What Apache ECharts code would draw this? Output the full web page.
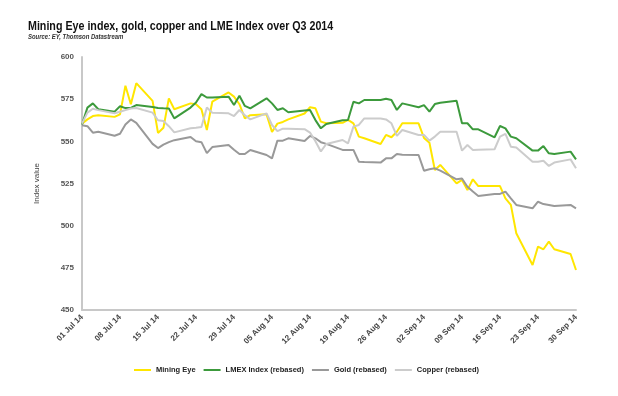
<!DOCTYPE html>
<html>
<head>
    <meta charset="utf-8" />
    <title>Mining Eye index</title>
    <script src="https://cdn.jsdelivr.net/npm/echarts@6.0.0/dist/echarts.min.js"></script>
    <style>
        body { margin: 0; background: #fff; }
        #main { width: 618px; height: 396px; }
    </style>
</head>
<body>
<div id="main"></div>
<script type="text/javascript">
    // x 轴刻度（每周一个）
    const tickLabels = ['01 Jul 14', '08 Jul 14', '15 Jul 14', '22 Jul 14', '29 Jul 14', '05 Aug 14', '12 Aug 14',
        '19 Aug 14', '26 Aug 14', '02 Sep 14', '09 Sep 14', '16 Sep 14', '23 Sep 14', '30 Sep 14'];

    // 交易日：相对 01 Jul 14 的天数
    const tradingDays = [0, 1, 2, 3, 6, 7, 8, 9, 10, 13, 14, 15, 16, 17, 20, 21, 22, 23, 24,
        27, 28, 29, 30, 31, 34, 35, 36, 37, 38, 41, 42, 43, 44, 45, 48, 49, 50, 51, 52,
        55, 56, 57, 58, 59, 62, 63, 64, 65, 66, 69, 70, 71, 72, 73, 76, 77, 78, 79, 80,
        83, 84, 85, 86, 87, 90, 91];

    const miningEye = [560.5, 563, 565, 565.5, 564.5, 566, 583, 572, 584.5, 574, 555, 558, 575.5, 569,
        572.5, 572, 569, 556.7, 573.5, 579, 576.5, 572, 563.6, 565.5, 566, 555.5, 560.5, 561.5, 563,
        566.5, 570.2, 569.6, 561.7, 560.7, 561, 562.7, 560.7, 552.8, 551.8, 548.4, 553.8, 552.4, 555.7, 560.7,
        560.7, 552, 549.2, 533, 536, 525.1, 527.1, 521.1, 527.5, 523.5, 523.5, 523.5, 516.2, 512.3, 495.5,
        476.7, 487.6, 486, 490.5, 486, 483.2, 473.7];

    const lmex = [560, 570, 572.5, 569, 567.6, 570.8, 569.7, 569.8, 571.5, 570.4, 569.8, 569.6, 569.5, 563.6,
        570, 573, 578, 576, 576, 576.5, 571.5, 577, 571, 569.5, 575.5, 572.5, 568.6, 569.6, 567.2,
        568.3, 568.6, 562.6, 557.7, 560.3, 562.5, 562.7, 573.5, 572.5, 574.5, 574.5, 575.3, 574.5, 568.6, 572.5,
        570.2, 571.5, 567.6, 572.1, 572.9, 574.1, 560.7, 560.7, 557.1, 557.1, 552.4, 559.1, 557.7, 552.8, 551.8,
        544.5, 544.5, 547.2, 542.9, 542.5, 543.9, 539.3];

    const gold = [559.5, 559, 555.1, 555.7, 553.3, 554.5, 560, 563, 561, 548.5, 546, 548, 549.5, 550.7,
        552.6, 550, 549.5, 543, 546.6, 547.8, 545, 542.5, 542.5, 544.9, 541.9, 539.9, 550.4, 550.4, 551.8,
        550.2, 553.2, 551.8, 549.5, 548.5, 544.9, 544.9, 544.9, 537.9, 537.7, 537.4, 539.9, 539.9, 542.5, 542,
        541.9, 532.6, 533.4, 534, 532.6, 527.5, 528, 523.1, 520.2, 517.6, 518.8, 518.8, 520.2, 516.2, 512.3,
        510.3, 514.2, 512.8, 512.3, 511.6, 512.3, 510.3];

    const copper = [560.5, 567, 569.3, 568.5, 566.6, 567.5, 568.5, 569.5, 569.8, 567, 562.5, 562, 559, 555.3,
        557.8, 558, 558.5, 570, 567, 566.6, 565, 568.6, 565.5, 563, 566.6, 559.7, 556, 557.5, 557.5,
        557.2, 555.2, 550, 544, 548.4, 550.8, 548.8, 558.7, 559.7, 563.6, 563.6, 563, 560.7, 553.2, 556.7,
        553.8, 553.8, 550.4, 552.8, 555.7, 555.7, 544.5, 547.8, 544.9, 545, 545.3, 552.8, 554.4, 546.8, 546.4,
        537.9, 537.9, 538.5, 535.4, 537.4, 539.3, 534];

    // 日历天（含周末），标签每 7 天一个
    const totalDays = (tickLabels.length - 1) * 7 + 1;
    const categories = [];
    for (let i = 0; i < totalDays; i++) {
        categories.push(i % 7 === 0 ? tickLabels[i / 7] : '');
    }

    const toPairs = function (values) {
        return values.map((v, i) => [tradingDays[i], v]);
    };

    const makeSeries = function (name, values, color) {
        return {
            name: name,
            type: 'line',
            data: toPairs(values),
            symbol: 'none',
            lineStyle: {width: 2, color: color},
            itemStyle: {color: color}
        };
    };

    let myChart = echarts.init(document.getElementById('main'));
    let option = {
        animation: false,
        // 标题用 graphic，方便横向压缩
        graphic: [
            {
                type: 'text',
                x: 28,
                y: 20,
                scaleX: 0.855,
                style: {
                    text: 'Mining Eye index, gold, copper and LME Index over Q3 2014',
                    fontFamily: 'Liberation Sans',
                    fontSize: 12.5,
                    fontWeight: 'bold',
                    fill: '#111',
                    verticalAlign: 'top'
                }
            },
            {
                type: 'text',
                x: 28,
                y: 34,
                scaleX: 0.85,
                style: {
                    text: 'Source: EY, Thomson Datastream',
                    fontFamily: 'Liberation Sans',
                    fontSize: 7,
                    fontStyle: 'italic',
                    fontWeight: 'bold',
                    fill: '#333',
                    verticalAlign: 'top'
                }
            }
        ],
        grid: {left: 82, right: 42, top: 57, bottom: 86},
        legend: {
            bottom: 17,
            left: 129,
            itemWidth: 17,
            itemHeight: 2,
            itemGap: 8,
            icon: 'rect',
            textStyle: {
                fontFamily: 'Liberation Sans, sans-serif',
                fontSize: 7.5,
                fontWeight: 'bold',
                color: '#222'
            },
            data: ['Mining Eye', 'LMEX Index (rebased)', 'Gold (rebased)', 'Copper (rebased)']
        },
        xAxis: {
            type: 'category',
            data: categories,
            boundaryGap: false,
            axisLine: {lineStyle: {color: '#c8c8c8', width: 2}},
            axisTick: {show: false},
            axisLabel: {
                interval: 0,
                rotate: 45,
                margin: 6,
                fontFamily: 'Liberation Sans, sans-serif',
                fontSize: 8,
                fontWeight: 'bold',
                color: '#444'
            }
        },
        yAxis: {
            type: 'value',
            min: 450,
            max: 600,
            interval: 25,
            name: 'Index value',
            nameLocation: 'middle',
            nameGap: 41,
            nameTextStyle: {
                fontFamily: 'Liberation Sans, sans-serif',
                fontSize: 8,
                color: '#444'
            },
            axisLine: {show: true, lineStyle: {color: '#c8c8c8', width: 2}},
            axisTick: {show: false},
            splitLine: {show: false},
            axisLabel: {
                margin: 8,
                fontFamily: 'Liberation Sans, sans-serif',
                fontSize: 8,
                fontWeight: 'bold',
                color: '#555'
            }
        },
        series: [
            makeSeries('Mining Eye', miningEye, '#ffe600'),
            makeSeries('LMEX Index (rebased)', lmex, '#3c9a3c'),
            makeSeries('Gold (rebased)', gold, '#999999'),
            makeSeries('Copper (rebased)', copper, '#cccccc')
        ]
    };
    myChart.setOption(option);
</script>
</body>
</html>
